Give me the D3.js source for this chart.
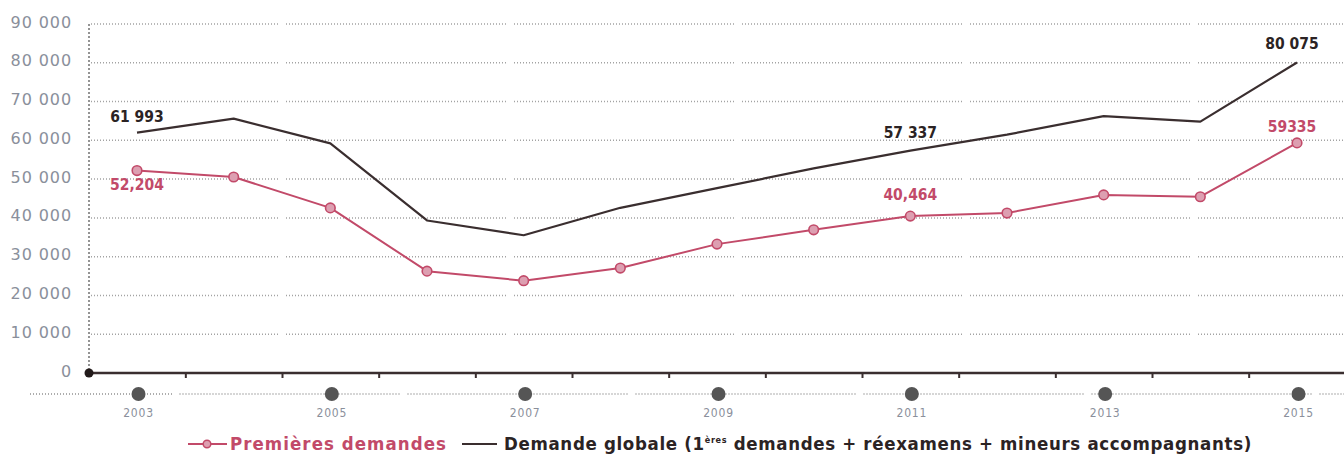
<!DOCTYPE html>
<html lang="fr">
<head>
<meta charset="utf-8">
<script src="https://cdn.jsdelivr.net/npm/d3@7/dist/d3.min.js"></script>
<style>
  html, body { margin: 0; padding: 0; background: #ffffff; }
  svg { display: block; }
</style>
</head>
<body>
<svg id="chart" width="1344" height="456"></svg>
<script>
// Demandes d'asile, 2003-2015
const years = [2003, 2004, 2005, 2006, 2007, 2008, 2009, 2010, 2011, 2012, 2013, 2014, 2015];
const premieresDemandes = [52204, 50547, 42578, 26269, 23804, 27063, 33235, 36931, 40464, 41254, 45925, 45454, 59335];
const demandeGlobale = [61993, 65614, 59221, 39332, 35520, 42599, 47686, 52762, 57337, 61468, 66251, 64811, 80075];
const yTicks = [0, 10000, 20000, 30000, 40000, 50000, 60000, 70000, 80000, 90000];
const yearLabels = [2003, 2005, 2007, 2009, 2011, 2013, 2015];
// labelled values: [year, text, dx, dy]
const globalLabels = [[2003, "61 993", 0, -11], [2011, "57 337", 0, -13], [2015, "80 075", -5, -13]];
const premieresLabels = [[2003, "52,204", 0, 19], [2011, "40,464", 0, -16], [2015, "59335", -5, -11]];
const legendPremieres = "Premières demandes";

const PINK = "#c24a69";
const DARK = "#3a2e2f";
const TICK_GREY = "#8a8f9b";
const LABEL_FONT = "'DejaVu Sans Condensed', 'Liberation Sans Narrow', sans-serif";

const svg = d3.select("#chart");
const W = 1344;

const x = d3.scaleLinear().domain([2003, 2015]).range([137, 1297]);
const y = d3.scaleLinear().domain([0, 90000]).range([373, 24]);
const axisLeftX = 89;

// dotted gridlines, broken into long segments
function brokenSegments(x0, x1, firstGap, step, gapW) {
  const segs = [];
  let start = x0;
  for (let g = firstGap; g < x1; g += step) {
    if (g > start) segs.push([start, g - gapW / 2]);
    start = g + gapW / 2;
  }
  if (start < x1) segs.push([start, x1]);
  return segs;
}

const grid = svg.append("g").attr("class", "grid");
yTicks.filter(d => d > 0).forEach(v => {
  brokenSegments(axisLeftX + 2, W, 283, 228, 6).forEach(([a, b]) => {
    grid.append("line")
      .attr("x1", a).attr("x2", b)
      .attr("y1", y(v)).attr("y2", y(v))
      .attr("stroke", "#a3a3a3")
      .attr("stroke-width", 1.5)
      .attr("stroke-dasharray", "1,2");
  });
});

// vertical dotted y axis
svg.append("line")
  .attr("x1", axisLeftX).attr("x2", axisLeftX)
  .attr("y1", y(90000)).attr("y2", y(0))
  .attr("stroke", "#7a7a7a")
  .attr("stroke-width", 1.6)
  .attr("stroke-dasharray", "2,2");

// y tick labels
const yAxis = d3.axisLeft(y)
  .tickValues(yTicks)
  .tickSize(0)
  .tickPadding(0)
  .tickFormat(d => d === 0 ? "0" : d3.format(",")(d).replace(/,/g, " "));
const yg = svg.append("g").attr("transform", `translate(${72},0)`).call(yAxis);
yg.select(".domain").remove();
yg.selectAll("text")
  .attr("dy", "3px")
  .attr("fill", TICK_GREY)
  .attr("font-family", "'DejaVu Sans', sans-serif")
  .attr("font-size", 16)
  .attr("letter-spacing", 0.9);

// bottom axis: solid baseline with ticks between years
const xAxis = d3.axisBottom(x)
  .tickValues(years.slice(0, -1).map(d => d + 0.5))
  .tickSize(5)
  .tickFormat("");
const xg = svg.append("g").attr("transform", `translate(0,${y(0)})`).call(xAxis);
xg.select(".domain").remove();
xg.selectAll(".tick line").attr("stroke", DARK).attr("stroke-width", 2);
svg.append("line")
  .attr("x1", axisLeftX).attr("x2", W)
  .attr("y1", y(0)).attr("y2", y(0))
  .attr("stroke", DARK).attr("stroke-width", 2.4);
svg.append("circle")
  .attr("cx", axisLeftX).attr("cy", y(0)).attr("r", 4.5)
  .attr("fill", "#221a1a");

// timeline row with dots and year labels
const rowY = 394;
brokenSegments(30, W, 176, 228, 7).forEach(([a, b]) => {
  svg.append("line")
    .attr("x1", a).attr("x2", b)
    .attr("y1", rowY).attr("y2", rowY)
    .attr("stroke", "#939393")
    .attr("stroke-width", 1.5)
    .attr("stroke-dasharray", "1,2");
});
svg.append("g").selectAll("circle")
  .data(yearLabels)
  .join("circle")
  .attr("cx", d => x(d) + 1.5)
  .attr("cy", rowY)
  .attr("r", 7)
  .attr("fill", "#555555");
svg.append("g").selectAll("text")
  .data(yearLabels)
  .join("text")
  .attr("x", d => x(d) + 1.5)
  .attr("y", 417)
  .attr("text-anchor", "middle")
  .attr("fill", TICK_GREY)
  .attr("font-family", "'DejaVu Sans Condensed', sans-serif")
  .attr("font-size", 12)
  .attr("letter-spacing", 0.8)
  .text(d => d);

// lines
const line = d3.line().x((d, i) => x(years[i])).y(d => y(d));

svg.append("path")
  .datum(demandeGlobale)
  .attr("d", line)
  .attr("fill", "none")
  .attr("stroke", DARK)
  .attr("stroke-width", 2.2)
  .attr("stroke-linejoin", "round");

svg.append("path")
  .datum(premieresDemandes)
  .attr("d", line)
  .attr("fill", "none")
  .attr("stroke", PINK)
  .attr("stroke-width", 2)
  .attr("stroke-linejoin", "round");

svg.append("g").selectAll("circle")
  .data(premieresDemandes)
  .join("circle")
  .attr("cx", (d, i) => x(years[i]))
  .attr("cy", d => y(d))
  .attr("r", 4.8)
  .attr("fill", "#dd9fb1")
  .attr("stroke", PINK)
  .attr("stroke-width", 1.6);

// value labels
function valueLabels(defs, series, color) {
  svg.append("g").selectAll("text")
    .data(defs)
    .join("text")
    .attr("x", d => x(d[0]) + d[2])
    .attr("y", d => y(series[years.indexOf(d[0])]) + d[3])
    .attr("text-anchor", "middle")
    .attr("fill", color)
    .attr("font-family", LABEL_FONT)
    .attr("font-weight", "bold")
    .attr("font-size", 15.5)
    .text(d => d[1]);
}
valueLabels(globalLabels, demandeGlobale, "#2b2324");
valueLabels(premieresLabels, premieresDemandes, PINK);

// legend
const legY = 444;
const leg = svg.append("g");
leg.append("line").attr("x1", 188).attr("x2", 227).attr("y1", legY).attr("y2", legY)
  .attr("stroke", PINK).attr("stroke-width", 2);
leg.append("circle").attr("cx", 207).attr("cy", legY).attr("r", 3.8)
  .attr("fill", "#dd9fb1").attr("stroke", PINK).attr("stroke-width", 1.5);

function fitText(sel, target) {
  const node = sel.node();
  const w = node.getComputedTextLength();
  const n = node.textContent.length;
  sel.attr("letter-spacing", (target - w) / n);
}

const t1 = leg.append("text")
  .attr("x", 230).attr("y", 450)
  .attr("fill", PINK)
  .attr("font-family", LABEL_FONT)
  .attr("font-weight", "bold")
  .attr("font-size", 18.5)
  .text(legendPremieres);
fitText(t1, 217);

leg.append("line").attr("x1", 462).attr("x2", 497).attr("y1", legY).attr("y2", legY)
  .attr("stroke", DARK).attr("stroke-width", 2);

const t2 = leg.append("text")
  .attr("x", 504).attr("y", 450)
  .attr("fill", "#2b2324")
  .attr("font-family", LABEL_FONT)
  .attr("font-weight", "bold")
  .attr("font-size", 18.5);
t2.append("tspan").text("Demande globale (1");
t2.append("tspan").attr("font-size", 9).attr("dy", -7).text("ères");
t2.append("tspan").attr("dy", 7).text(" demandes + réexamens + mineurs accompagnants)");
fitText(t2, 748);
</script>
</body>
</html>
